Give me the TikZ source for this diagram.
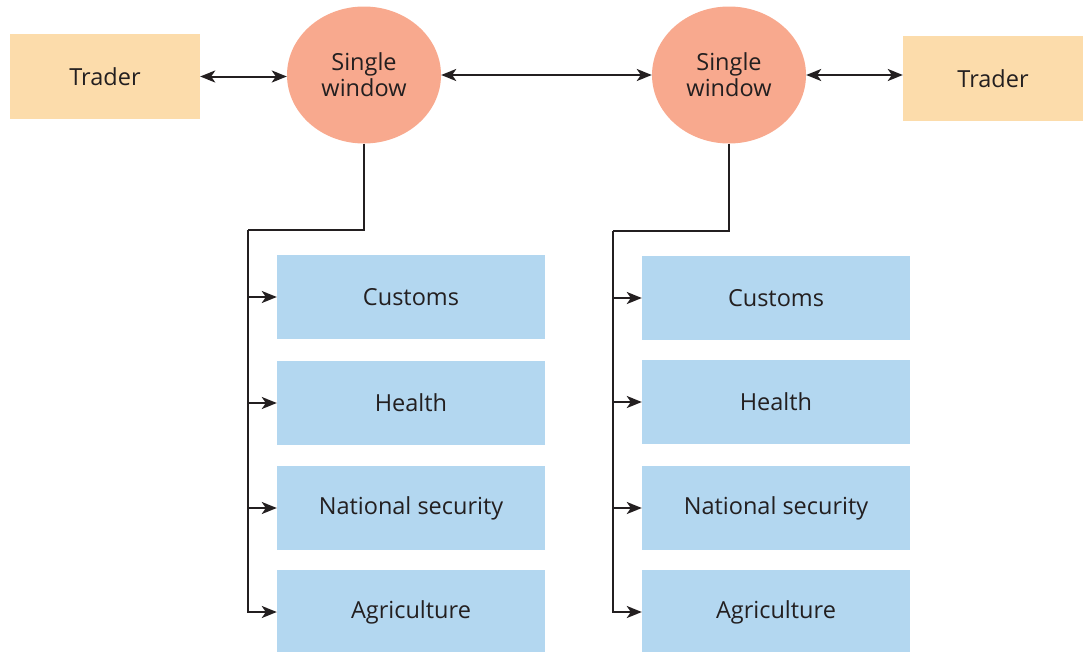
\documentclass[tikz,border=0pt]{standalone}
\usepackage{fontspec}
\setmainfont{Open Sans}
\definecolor{TraderFill}{HTML}{FCDCAB}
\definecolor{WindowFill}{HTML}{F8A98E}
\definecolor{AgencyFill}{HTML}{B3D7F0}
\definecolor{LineGrey}{HTML}{231F20}
\usepackage{tikz}
\usetikzlibrary{arrows.meta, shapes.geometric, positioning, calc}

\tikzset{
    trader/.style={draw=none, fill=TraderFill, minimum width=190pt, minimum height=85pt, inner sep=0pt},
    window/.style={ellipse, draw=none, fill=WindowFill, minimum width=154pt, minimum height=137pt, inner sep=0pt, align=center},
    agency/.style={draw=none, fill=AgencyFill, minimum width=268pt, minimum height=84pt, inner sep=0pt},
    link/.style={LineGrey, line width=2pt},
    tip/.style={-{Stealth[length=15pt, width=12pt, inset=4pt]}},
    twotip/.style={{Stealth[length=15pt, width=12pt, inset=4pt]}-{Stealth[length=15pt, width=12pt, inset=4pt]}}
}

\begin{document}
\begin{tikzpicture}[x=1pt, y=-1pt, font=\fontsize{23.5}{26}\selectfont, text=LineGrey]

    \useasboundingbox (0,0) rectangle (1083,651);

    % traders and single windows
    \node[trader] (trader1) at (105,76.5) {Trader};
    \node[trader, minimum width=180pt] (trader2) at (993,78.5) {Trader};
    \node[window] (window1) at (364,75) {Single\\window};
    \node[window] (window2) at (729,75) {Single\\window};

    % agencies, left side
    \node[agency] (customs1) at (411,297) {Customs};
    \node[agency] (health1) at (411,403) {Health};
    \node[agency] (security1) at (411,508) {National security};
    \node[agency] (agri1) at (411,612) {Agriculture};

    % agencies, right side
    \node[agency] (customs2) at (776,298) {Customs};
    \node[agency] (health2) at (776,402) {Health};
    \node[agency] (security2) at (776,508) {National security};
    \node[agency] (agri2) at (776,612) {Agriculture};

    % two-way links
    \draw[link, twotip] (trader1.east) -- (trader1.east -| window1.west);
    \draw[link, twotip] (window1.east) -- (window2.west);
    \draw[link, twotip] (window2.east) -- (window2.east -| trader2.west);

    % left tree
    \coordinate (bend1) at (248,230);
    \draw[link] (window1.south) |- (bend1);
    \draw[link, tip] (bend1) |- (agri1.west);
    \draw[link, tip] (bend1 |- customs1.west) -- (customs1.west);
    \draw[link, tip] (bend1 |- health1.west) -- (health1.west);
    \draw[link, tip] (bend1 |- security1.west) -- (security1.west);

    % right tree
    \coordinate (bend2) at (613,231);
    \draw[link] (window2.south) |- (bend2);
    \draw[link, tip] (bend2) |- (agri2.west);
    \draw[link, tip] (bend2 |- customs2.west) -- (customs2.west);
    \draw[link, tip] (bend2 |- health2.west) -- (health2.west);
    \draw[link, tip] (bend2 |- security2.west) -- (security2.west);

\end{tikzpicture}
\end{document}
